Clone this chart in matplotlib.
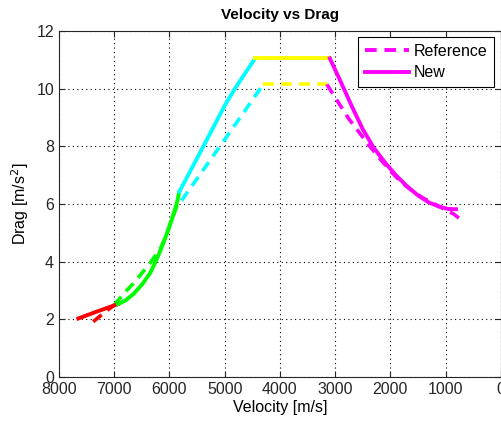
'''
Velocity vs Drag - reference and new drag profiles, coloured by phase
'''

import matplotlib
matplotlib.use('Agg')
import matplotlib.pyplot as plt
from matplotlib.lines import Line2D

plt.rcParams['font.family'] = ['Liberation Sans', 'DejaVu Sans']

# phase colours, in flight order
PHASE_COLOURS = ['#ff0000', '#00ff00', '#00ffff', '#ffff00', '#ff00ff']

# reference profile (dashed), one list per phase
ref_vel = [
  [7380, 7200, 7000],
  [7000, 6800, 6650, 6500, 6350, 6150, 6050, 5950, 5870, 5800],
  [5780, 5086, 4700, 4300],
  [4300, 3150],
  [3150, 2950, 2750, 2550, 2371, 2200, 2000, 1800, 1600, 1400, 1200, 1000, 850, 750],
]
ref_drag = [
  [1.92, 2.2, 2.5],
  [2.5, 2.95, 3.25, 3.6, 3.95, 4.5, 4.95, 5.5, 5.9, 6.15],
  [6.12, 8.0, 9.05, 10.15],
  [10.15, 10.15],
  [10.15, 9.55, 8.95, 8.45, 8.0, 7.6, 7.15, 6.75, 6.45, 6.2, 6.0, 5.8, 5.65, 5.5],
]

# new profile (solid)
new_vel = [
  [7650, 7300, 6930],
  [6930, 6800, 6650, 6500, 6350, 6250, 6150, 6050, 5950, 5870, 5820],
  [5820, 5388, 4995, 4815, 4450],
  [4450, 3095],
  [3095, 2900, 2700, 2500, 2300, 2100, 1900, 1700, 1500, 1300, 1100, 950, 810],
]
new_drag = [
  [2.03, 2.28, 2.53],
  [2.53, 2.65, 2.88, 3.2, 3.6, 4.0, 4.45, 4.95, 5.5, 6.0, 6.43],
  [6.43, 7.99, 9.43, 10.0, 11.05],
  [11.05, 11.05],
  [11.05, 10.25, 9.4, 8.6, 7.95, 7.45, 7.0, 6.62, 6.3, 6.05, 5.9, 5.83, 5.82],
]

fig = plt.figure(figsize=(5.02, 4.23), dpi=100)
ax = fig.add_axes([0.1175, 0.1087, 0.880, 0.8180])

for v, d, c in zip(ref_vel, ref_drag, PHASE_COLOURS):
  ax.plot(v, d, color=c, lw=2.6, linestyle=(0, (3, 2)))
for v, d, c in zip(new_vel, new_drag, PHASE_COLOURS):
  ax.plot(v, d, color=c, lw=2.8)

ax.set_xlim(8000, 0)
ax.set_ylim(0, 12)
ax.set_xticks(range(8000, -1, -1000))
ax.set_yticks(range(0, 13, 2))
ax.grid(True, color='k', linestyle=(0, (1, 3)), lw=0.8)
ax.tick_params(direction='in', length=4, labelsize=11.5, colors='#262626', top=True, right=True)
for s in ax.spines.values():
  s.set_color('#262626')

ax.set_xlabel('Velocity [m/s]', fontsize=11.5, labelpad=2)
ax.set_ylabel('Drag [m/s$^2$]', fontsize=11.5, labelpad=4)
ax.set_title('Velocity vs Drag', fontsize=11, fontweight='bold', pad=8.5)

handles = [Line2D([], [], color='#ff00ff', lw=2.8, linestyle=(0, (3, 2))),
           Line2D([], [], color='#ff00ff', lw=2.8)]
leg = ax.legend(handles, ['Reference', 'New'], loc='upper right', fontsize=11.5,
                fancybox=False, framealpha=1, edgecolor='k', handlelength=2.8,
                borderaxespad=0.4, handletextpad=0.3, labelspacing=0.4)
leg.get_frame().set_linewidth(0.8)

fig.savefig('out.png', dpi=100)
